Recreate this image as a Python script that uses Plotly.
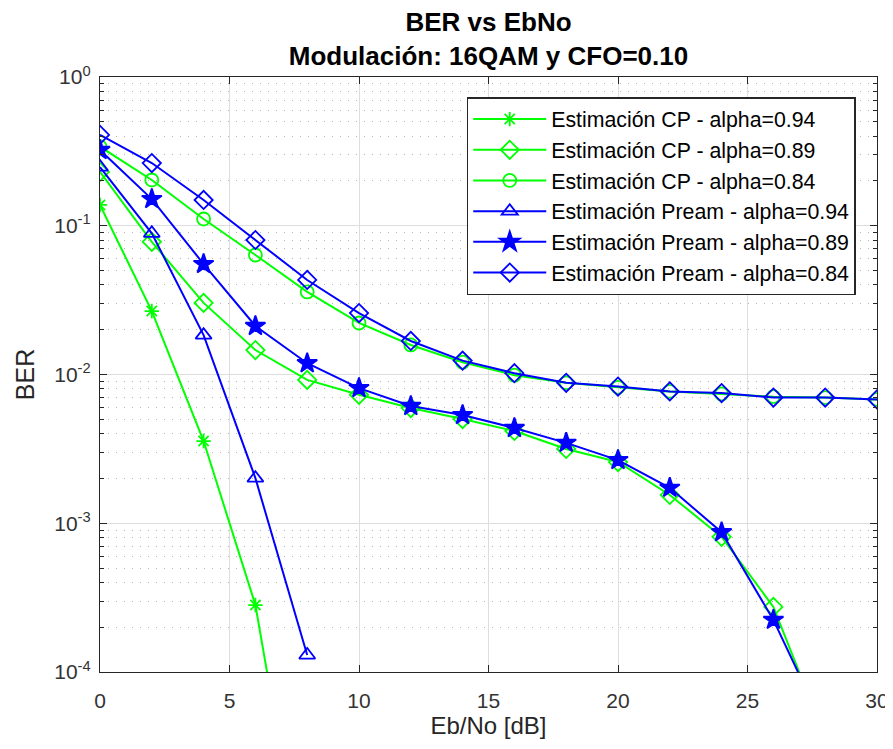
import plotly.graph_objects as go

ebno = [0, 2, 4, 6, 8, 10, 12, 14, 16, 18, 20, 22, 24, 26, 28, 30]

cp_094 = [0.138, 0.0267, 0.00357, 0.000282, 2.8e-6, None, None, None, None, None, None, None, None, None, None, None]
cp_089 = [0.23, 0.078, 0.0303, 0.0146, 0.0092, 0.0073, 0.00595, 0.00502, 0.00417, 0.00316, 0.00258, 0.00155, 0.00081, 0.000274, 3.6e-5, None]
cp_084 = [0.34, 0.203, 0.111, 0.0636, 0.0359, 0.0222, 0.0158, 0.0121, 0.0099, 0.0088, 0.0082, 0.0077, 0.0074, 0.0071, 0.0070, 0.0068]
pr_094 = [0.248, 0.089, 0.0184, 0.00201, 0.00013, None, None, None, None, None, None, None, None, None, None, None]
pr_089 = [0.323, 0.151, 0.0553, 0.0212, 0.0119, 0.0081, 0.00614, 0.00534, 0.00437, 0.00347, 0.00266, 0.00173, 0.00087, 0.000224, 4.1e-5, None]
pr_084 = [0.408, 0.264, 0.149, 0.0802, 0.0432, 0.0259, 0.0168, 0.0124, 0.0102, 0.0088, 0.0083, 0.0077, 0.0075, 0.0070, 0.0070, 0.0068]

names = [
    "Estimación CP - alpha=0.94",
    "Estimación CP - alpha=0.89",
    "Estimación CP - alpha=0.84",
    "Estimación Pream - alpha=0.94",
    "Estimación Pream - alpha=0.89",
    "Estimación Pream - alpha=0.84",
]
series = [cp_094, cp_089, cp_084, pr_094, pr_089, pr_084]
colors = ["#00FF00", "#00FF00", "#00FF00", "#0000FF", "#0000FF", "#0000FF"]
symbols = ["asterisk-open", "diamond-open", "circle-open", "triangle-up-open", "star", "diamond-open"]
sizes = [12, 14, 13, 14, 15, 14]

ytickvals = [1e-4, 1e-3, 1e-2, 1e-1, 1]
yticktext = ["10<sup>-4</sup>", "10<sup>-3</sup>", "10<sup>-2</sup>", "10<sup>-1</sup>", "10<sup>0</sup>"]
xtickvals = [0, 5, 10, 15, 20, 25, 30]

fig = go.Figure()
for i, (n, s) in enumerate(zip(names, series)):
    fig.add_trace(go.Scatter(
        x=ebno, y=s, name=n, mode="lines+markers",
        line=dict(color=colors[i], width=2),
        marker=dict(symbol=symbols[i], size=sizes[i], color=colors[i],
                    line=dict(color=colors[i], width=1.8)),
        cliponaxis=True,
    ))

axcol = "#262626"
fig.update_layout(
    width=885, height=733,
    paper_bgcolor="white", plot_bgcolor="white",
    margin=dict(l=92, r=16, t=69, b=69, autoexpand=False),
    font=dict(family="Liberation Sans, Arial, sans-serif", size=21, color=axcol),
    title=dict(
        text="<b>BER vs EbNo</b><br><b>Modulación: 16QAM y CFO=0.10</b>",
        x=0.5, xanchor="center", xref="paper",
        y=0.969, yanchor="top", yref="container",
        font=dict(size=26, color="black"),
    ),
    showlegend=True,
    legend=dict(
        x=0.472, y=0.966, xanchor="left", yanchor="top",
        bgcolor="white", bordercolor="#262626", borderwidth=1.5,
        font=dict(size=21.3, color="black"),
        itemwidth=73,
    ),
    xaxis=dict(
        range=[0, 30], tickvals=xtickvals, automargin=False,
        showline=True, linecolor=axcol, linewidth=1.3, mirror="ticks",
        ticks="inside", ticklen=7, tickcolor=axcol,
        showgrid=True, gridcolor="#dedede", gridwidth=1,
        zeroline=False,
        ticklabelstandoff=10, ticklabeloverflow="allow",
        title=dict(text="Eb/No [dB]", font=dict(size=24), standoff=0),
        tickfont=dict(size=21, color="#333333"),
    ),
    yaxis=dict(
        type="log", range=[-4, 0], automargin=False,
        tickvals=ytickvals, ticktext=yticktext,
        showline=True, linecolor=axcol, linewidth=1.3, mirror="ticks",
        ticks="inside", ticklen=7, tickcolor=axcol,
        showgrid=True, gridcolor="#dedede", gridwidth=1,
        zeroline=False,
        ticklabelstandoff=4,
        minor=dict(dtick="D1", ticks="inside", ticklen=4, tickcolor=axcol,
                   showgrid=True, gridcolor="#b4b4b4", griddash="1px,7px", gridwidth=1.3),
        title=dict(text="BER", font=dict(size=25), standoff=12),
        tickfont=dict(size=21, color="#333333"),
    ),
)

fig.write_html("out.html")
